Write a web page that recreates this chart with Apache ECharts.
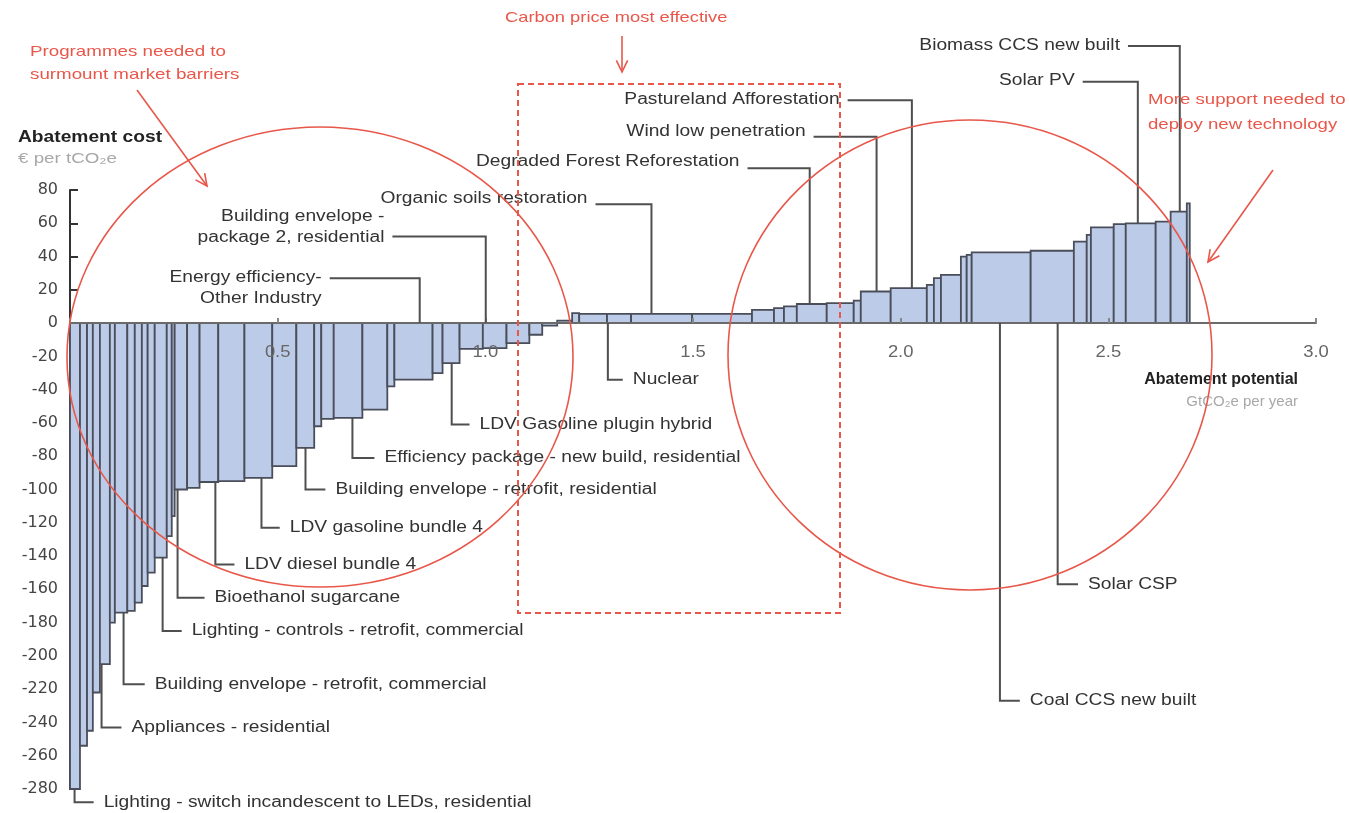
<!DOCTYPE html>
<html>
<head>
<meta charset="utf-8">
<script src="https://cdn.jsdelivr.net/npm/echarts@6/dist/echarts.min.js"></script>
<style>html,body{margin:0;padding:0;background:#fff;overflow:hidden;}#c{width:1349px;height:813px;}</style>
</head>
<body>
<div id="c"></div>
<script>
// Abatement potential widths (GtCO2e per year) and abatement cost (EUR per tCO2e), left to right
const widths = [0.024,0.017,0.014,0.017,0.024,0.012,0.030,0.018,0.017,0.014,0.017,0.029,0.012,0.007,
  0.030,0.030,0.045,0.063,0.067,0.058,0.043,0.017,0.030,0.069,0.060,0.017,0.092,0.024,0.041,0.056,
  0.057,0.055,0.031,0.036,0.036,0.017,0.067,0.058,0.147,0.144,0.053,0.024,0.031,0.072,0.065,0.017,
  0.072,0.087,0.017,0.017,0.048,0.014,0.012,0.142,0.104,0.031,0.010,0.055,0.029,0.072,0.036,0.039,0.007];
const costs = [-280,-254,-245,-222,-205,-180,-174,-173,-168,-158,-150,-141,-128,-116,
  -100,-99,-95.5,-95,-93,-86,-75,-62,-57.5,-57,-52,-38,-34,-30,-24,-15.5,
  -15,-12,-7,-1.5,1.5,6,5.5,5.5,5.5,5.5,8,9,10,11.5,12,13.5,
  19,21,23,27,29,40,41,42.5,43.5,49,53,57.5,59.5,60,61,67,72];

// Measure labels
const labelTexts = [
  'Lighting - switch incandescent to LEDs, residential',
  'Appliances - residential',
  'Building envelope - retrofit, commercial',
  'Lighting - controls - retrofit, commercial',
  'Bioethanol sugarcane',
  'LDV diesel bundle 4',
  'LDV gasoline bundle 4',
  'Building envelope - retrofit, residential',
  'Efficiency package - new build, residential',
  'LDV Gasoline plugin hybrid',
  'Nuclear',
  'Coal CCS new built',
  'Solar CSP',
  'Organic soils restoration',
  'Degraded Forest Reforestation',
  'Wind low penetration',
  'Pastureland Afforestation',
  'Biomass CCS new built',
  'Solar PV',
  'Energy efficiency-\nOther Industry',
  'Building envelope -\npackage 2, residential'
];
const labelSide   = ['below','below','below','below','below','below','below','below','below','below','below','below','below',
                     'above','above','above','above','above','above','above','above'];
const labelAnchorX = [0.011,0.076,0.129,0.223,0.259,0.350,0.461,0.567,0.680,0.919,1.295,2.239,2.378,
                      1.400,1.781,1.942,2.027,2.672,2.571,0.842,1.001];
const labelElbowY  = [-288,-243,-217,-185,-165,-145,-123,-100,-81,-61,-34,-227,-157,
                      71.5,93,112,134,166.5,145,27,52];
const labelTextX   = [0.081,0.148,0.204,0.293,0.348,0.420,0.529,0.639,0.757,0.986,1.355,2.311,2.451,
                      1.246,1.612,1.771,1.853,2.528,2.419,0.606,0.757];
const labelTextY   = [-288,-243,-217,-185,-165,-145,-123,-100,-81,-61,-34,-227,-157,
                      75,97,115,134.6,167,146,21,58];
const xTickLabels = [0.5, 1.0, 1.5, 2.0, 2.5, 3.0];

let acc = 0;
const barData = widths.map((w, i) => { const s = acc; acc += w; return [s, acc, costs[i]]; });
function barValueAt(x) {
  for (const b of barData) if (x >= b[0] && x < b[1]) return b[2];
  return 0;
}
const leaderData = labelTexts.map((t, i) => {
  const v = barValueAt(labelAnchorX[i]);
  const anchor = labelSide[i] === 'below' ? Math.min(v, 0) : Math.max(v, 0);
  return [labelAnchorX[i], anchor, labelElbowY[i], labelTextX[i], labelTextY[i], i];
});

const RED = '#e8574a';
function arrow(x1, y1, x2, y2) {
  const dx = x2 - x1, dy = y2 - y1, L = Math.hypot(dx, dy);
  const ux = dx / L, uy = dy / L, h = 13, a = 0.45;
  const ca = Math.cos(a), sa = Math.sin(a);
  const l1 = [x2 - h * (ux * ca - uy * sa), y2 - h * (uy * ca + ux * sa)];
  const l2 = [x2 - h * (ux * ca + uy * sa), y2 - h * (uy * ca - ux * sa)];
  return [
    {type: 'line', z: 20, shape: {x1, y1, x2, y2}, style: {stroke: RED, lineWidth: 1.6}},
    {type: 'polyline', z: 20, shape: {points: [l1, [x2, y2], l2]}, style: {stroke: RED, lineWidth: 1.6, fill: null}}
  ];
}
function txt(text, x, y, font, fill, scaleX, align) {
  return {type: 'text', x, y, scaleX, z: 20,
    style: {text, x: 0, y: 0, font, fill, align: align || 'left', verticalAlign: 'middle'}};
}

const chart = echarts.init(document.getElementById('c'), null, {renderer: 'canvas'});
const labelFont = '16px "Liberation Sans", Arial, sans-serif';
const redFont = '15px "Liberation Sans", Arial, sans-serif';
chart.setOption({
  animation: false,
  backgroundColor: '#ffffff',
  grid: {left: 70, right: 33, top: 190, bottom: 24, containLabel: false, outerBoundsMode: 'none'},
  xAxis: {
    type: 'value', min: 0, max: 3.0, interval: 0.5, z: 10,
    axisLine: {onZero: true, lineStyle: {color: '#6a6a6a', width: 2}},
    axisTick: {inside: true, length: 5, lineStyle: {color: '#888', width: 2}},
    axisLabel: {show: false},
    splitLine: {show: false}
  },
  yAxis: {
    type: 'value', min: -280, max: 80, interval: 20,
    axisLine: {show: true, lineStyle: {color: '#333', width: 2}},
    axisTick: {show: true, inside: true, length: 8, lineStyle: {color: '#333', width: 2}},
    axisLabel: {margin: 12, fontSize: 16, color: '#444', fontFamily: 'DejaVu Sans'},
    splitLine: {show: false}
  },
  series: [
    {
      type: 'custom', name: 'bars', z: 2,
      encode: {x: [0, 1], y: 2},
      data: barData,
      renderItem: (params, api) => {
        const s = api.value(0), e = api.value(1), v = api.value(2);
        const p0 = api.coord([s, 0]), p1 = api.coord([e, v]);
        return {
          type: 'rect',
          shape: {x: p0[0], y: Math.min(p0[1], p1[1]), width: p1[0] - p0[0], height: Math.abs(p1[1] - p0[1])},
          style: {fill: '#bccbe7', stroke: '#4a4e5a', lineWidth: 1.8}
        };
      }
    },
    {
      type: 'custom', name: 'xlabels', z: 11, clip: false,
      encode: {x: 0},
      data: xTickLabels.map(v => [v]),
      renderItem: (params, api) => {
        const v = api.value(0);
        const p = api.coord([v, 0]);
        return {type: 'text', x: p[0], y: p[1] + 29, scaleX: 1.15,
          style: {text: v.toFixed(1), x: 0, y: 0, font: '16px "Liberation Sans", Arial', fill: '#666',
            align: 'center', verticalAlign: 'middle'}};
      }
    },
    {
      type: 'custom', name: 'leaders', z: 12, clip: false,
      encode: {x: 0, y: 1},
      data: leaderData,
      renderItem: (params, api) => {
        const i = api.value(5);
        const a = api.coord([api.value(0), api.value(1)]);
        const e = api.coord([api.value(0), api.value(2)]);
        const t = api.coord([api.value(3), api.value(4)]);
        const below = labelSide[i] === 'below';
        const pts = below
          ? [[a[0], a[1]], [a[0], e[1]], [t[0] - 10, e[1]]]
          : [[t[0] + 8, e[1]], [a[0], e[1]], [a[0], a[1]]];
        return {
          type: 'group',
          children: [
            {type: 'polyline', shape: {points: pts}, style: {stroke: '#4f4f4f', lineWidth: 2, fill: null}},
            {type: 'text', x: t[0], y: t[1], scaleX: 1.2,
              style: {text: labelTexts[i], x: 0, y: 0, font: labelFont, fill: '#333',
                align: below ? 'left' : 'right', verticalAlign: 'middle', lineHeight: 21}}
          ]
        };
      }
    }
  ],
  graphic: [
    txt('Abatement cost', 18, 138, 'bold 16px "Liberation Sans", Arial', '#222', 1.2),
    txt('€ per tCO₂e', 18, 159, '15px "Liberation Sans", Arial', '#a8a8a8', 1.25),
    txt('Abatement potential', 1298, 380, 'bold 16px "Liberation Sans", Arial', '#222', 1.0, 'right'),
    txt('GtCO₂e per year', 1298, 402, '15px "Liberation Sans", Arial', '#a8a8a8', 1.0, 'right'),
    txt('Programmes needed to', 30, 52, redFont, RED, 1.25),
    txt('surmount market barriers', 30, 75, redFont, RED, 1.25),
    txt('Carbon price most effective', 505, 18, redFont, RED, 1.22),
    txt('More support needed to', 1148, 100, redFont, RED, 1.24),
    txt('deploy new technology', 1148, 125, redFont, RED, 1.24),
    {type: 'ellipse', z: 20, shape: {cx: 320, cy: 357, rx: 253, ry: 230}, style: {stroke: RED, lineWidth: 1.6, fill: null}},
    {type: 'ellipse', z: 20, shape: {cx: 970, cy: 355, rx: 242, ry: 235}, style: {stroke: RED, lineWidth: 1.6, fill: null}},
    {type: 'rect', z: 20, shape: {x: 518, y: 84, width: 322, height: 529}, style: {stroke: RED, lineWidth: 2, lineDash: [6, 4], fill: null}},
    ...arrow(137, 90, 207, 186),
    ...arrow(622, 36, 622, 72),
    ...arrow(1273, 170, 1208, 262)
  ]
});
</script>
</body>
</html>
